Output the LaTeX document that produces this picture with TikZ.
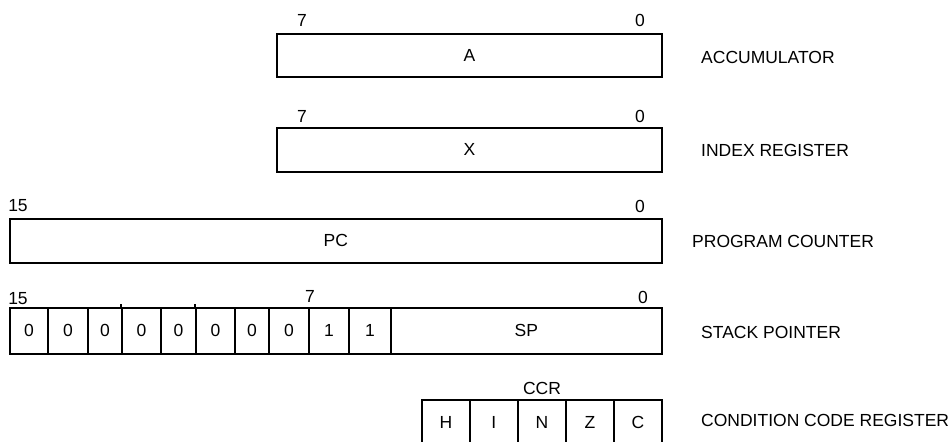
\documentclass[tikz,border=0pt]{standalone}
\usepackage{fontspec}
\setmainfont{Liberation Sans}
\begin{document}
\begin{tikzpicture}[x=1pt,y=-1pt,
  reg/.style={draw=black, line width=1.8pt, rectangle, inner sep=0pt, anchor=north west, font=\fontsize{17.5}{19}\selectfont},
  lbl/.style={inner sep=0pt, font=\fontsize{17.5}{19}\selectfont},
  regname/.style={inner sep=0pt, anchor=west, font=\fontsize{17.5}{19}\selectfont}]
\useasboundingbox (0,0) rectangle (951,442);
% Accumulator
\node[reg, minimum width=385pt, minimum height=43pt] (A) at (276,33) {A};
\node[lbl] (a7) at (302,20) {7};
\node[lbl] (a0) at (640,20) {0};
\node[regname] (accn) at (701,57) {ACCUMULATOR};
% Index register
\node[reg, minimum width=385pt, minimum height=44pt] (X) at (276,127) {X};
\node[lbl] (x7) at (302,116) {7};
\node[lbl] (x0) at (640,116) {0};
\node[regname] (idxn) at (701,150) {INDEX REGISTER};
% Program counter
\node[reg, minimum width=652pt, minimum height=44pt] (PC) at (9,218) {PC};
\node[lbl] (p15) at (18,206) {15};
\node[lbl] (p0) at (640,206) {0};
\node[regname] (pcn) at (692,241) {PROGRAM COUNTER};
% Stack pointer
\foreach \i/\xa/\xb/\t in {1/9/47/0,2/47/87/0,3/87/121/0,4/121/160/0,5/160/195/0,6/195/234/0,7/234/268/0,8/268/308/0,9/308/348/1,10/348/390/1}{
  \pgfmathsetmacro{\w}{\xb-\xa}
  \node[reg, minimum width=\w pt, minimum height=46pt] (s\i) at (\xa,307) {\t};
}
\node[reg, minimum width=271pt, minimum height=46pt] (SP) at (390,307) {SP};
\coordinate (tk1) at (121,304);
\coordinate (tk2) at (195,304);
\draw[line width=1.8pt] (tk1) -- (s4.north west);
\draw[line width=1.8pt] (tk2) -- (s6.north west);
\node[lbl] (s15) at (18,299) {15};
\node[lbl] (s7) at (310,296) {7};
\node[lbl] (s0) at (643,297) {0};
\node[regname] (spn) at (701,332) {STACK POINTER};
% CCR
\foreach \i/\xa/\t in {1/421/H,2/469/I,3/517/N,4/565/Z,5/613/C}{
  \node[reg, minimum width=48pt, minimum height=46pt] (c\i) at (\xa,399) {\t};
}
\node[lbl] (ccr) at (542,388) {CCR};
\node[regname] (ccrn) at (701,420) {CONDITION CODE REGISTER};
\end{tikzpicture}
\end{document}
